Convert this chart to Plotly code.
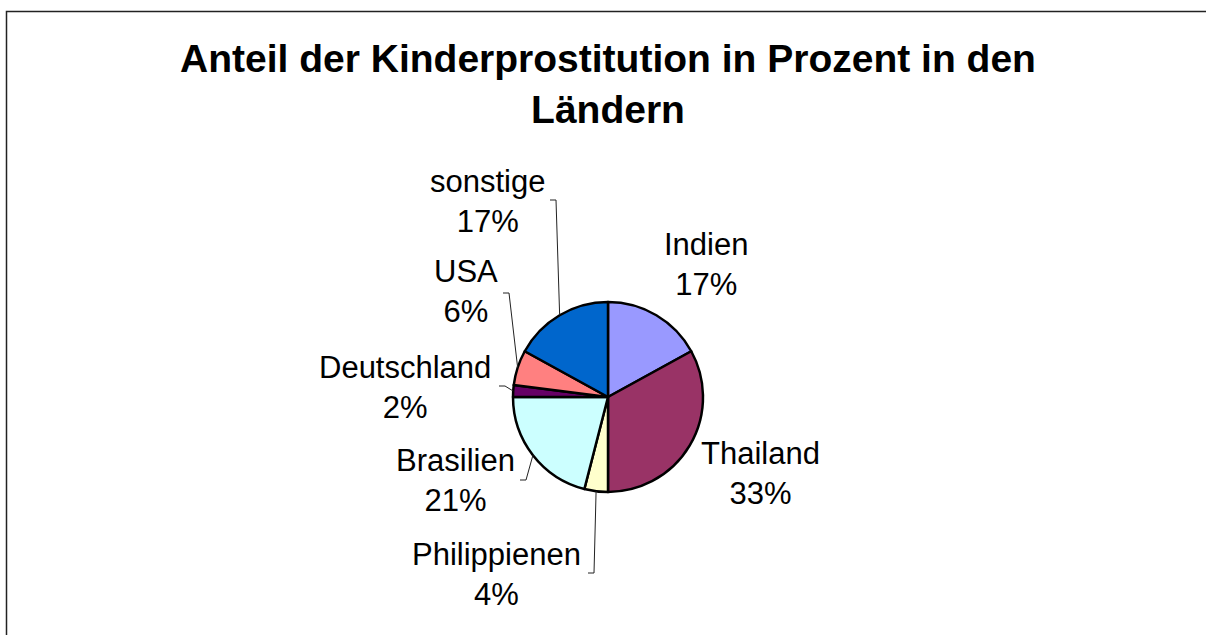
import math
import plotly.graph_objects as go

# ---- data ----
countries = ["Indien", "Thailand", "Philippienen", "Brasilien", "Deutschland", "USA", "sonstige"]
shares = [17, 33, 4, 21, 2, 6, 17]
colors = ["#9999FF", "#993366", "#FFFFCC", "#CCFFFF", "#660066", "#FF8080", "#0066CC"]
title_text = "Anteil der Kinderprostitution in Prozent in den<br>Ländern"

# ---- layout constants (pixels) ----
W, H = 1206, 635
CX, CY, R = 608, 397, 95
FONT = "Liberation Sans, Arial, sans-serif"

# label centres (px) and leader start points (px, None = no leader)
label_pos = {
    "Indien": (706, 265),
    "Thailand": (760, 473),
    "Philippienen": (496, 574),
    "Brasilien": (455, 480),
    "Deutschland": (405, 387),
    "USA": (466, 292),
    "sonstige": (487, 202),
}
leader_start = {
    "Philippienen": (588, 573),
    "Brasilien": (520, 480),
    "Deutschland": (499, 386),
    "USA": (503, 293),
    "sonstige": (550, 200),
}
BEND = 6


def px(x):
    return x / W


def py(y):
    return 1 - y / H


fig = go.Figure(
    go.Pie(
        labels=countries,
        values=shares,
        sort=False,
        direction="clockwise",
        rotation=0,
        marker=dict(colors=colors, line=dict(color="black", width=2.5)),
        textinfo="none",
        hoverinfo="label+percent",
        domain=dict(x=[px(CX - R), px(CX + R)], y=[py(CY + R), py(CY - R)]),
        showlegend=False,
    )
)

total = sum(shares)
annotations = []
shapes = []
cum = 0
for name, val in zip(countries, shares):
    mid = (cum + val / 2) / total * 2 * math.pi
    cum += val
    ex = CX + R * math.sin(mid)
    ey = CY - R * math.cos(mid)
    lx, ly = label_pos[name]
    annotations.append(
        dict(
            x=px(lx), y=py(ly), xref="paper", yref="paper",
            text=f"{name}<br>{round(val / total * 100)}%",
            showarrow=False, xanchor="center", yanchor="middle", align="center",
            font=dict(family=FONT, size=31, color="black"),
        )
    )
    if name in leader_start:
        sx, sy = leader_start[name]
        bx = sx + BEND
        path = f"M {px(sx)} {py(sy)} L {px(bx)} {py(sy)} L {px(ex)} {py(ey)}"
        shapes.append(
            dict(type="path", xref="paper", yref="paper", path=path,
                 line=dict(color="#222222", width=1))
        )

# outer chart-area border
shapes.append(
    dict(type="rect", xref="paper", yref="paper",
         x0=px(6.5), x1=px(W + 10), y0=py(H + 10), y1=py(11.5),
         line=dict(color="#222222", width=1.5), fillcolor="rgba(0,0,0,0)")
)

fig.update_layout(
    width=W, height=H,
    margin=dict(l=0, r=0, t=0, b=0),
    paper_bgcolor="white", plot_bgcolor="white",
    title=dict(
        text=title_text, x=px(608), xanchor="center", xref="paper",
        y=1 - 72 / H, yanchor="top", yref="container",
        font=dict(family=FONT, size=39, color="black", weight="bold"),
    ),
    annotations=annotations,
    shapes=shapes,
)

fig.write_html("out.html")
